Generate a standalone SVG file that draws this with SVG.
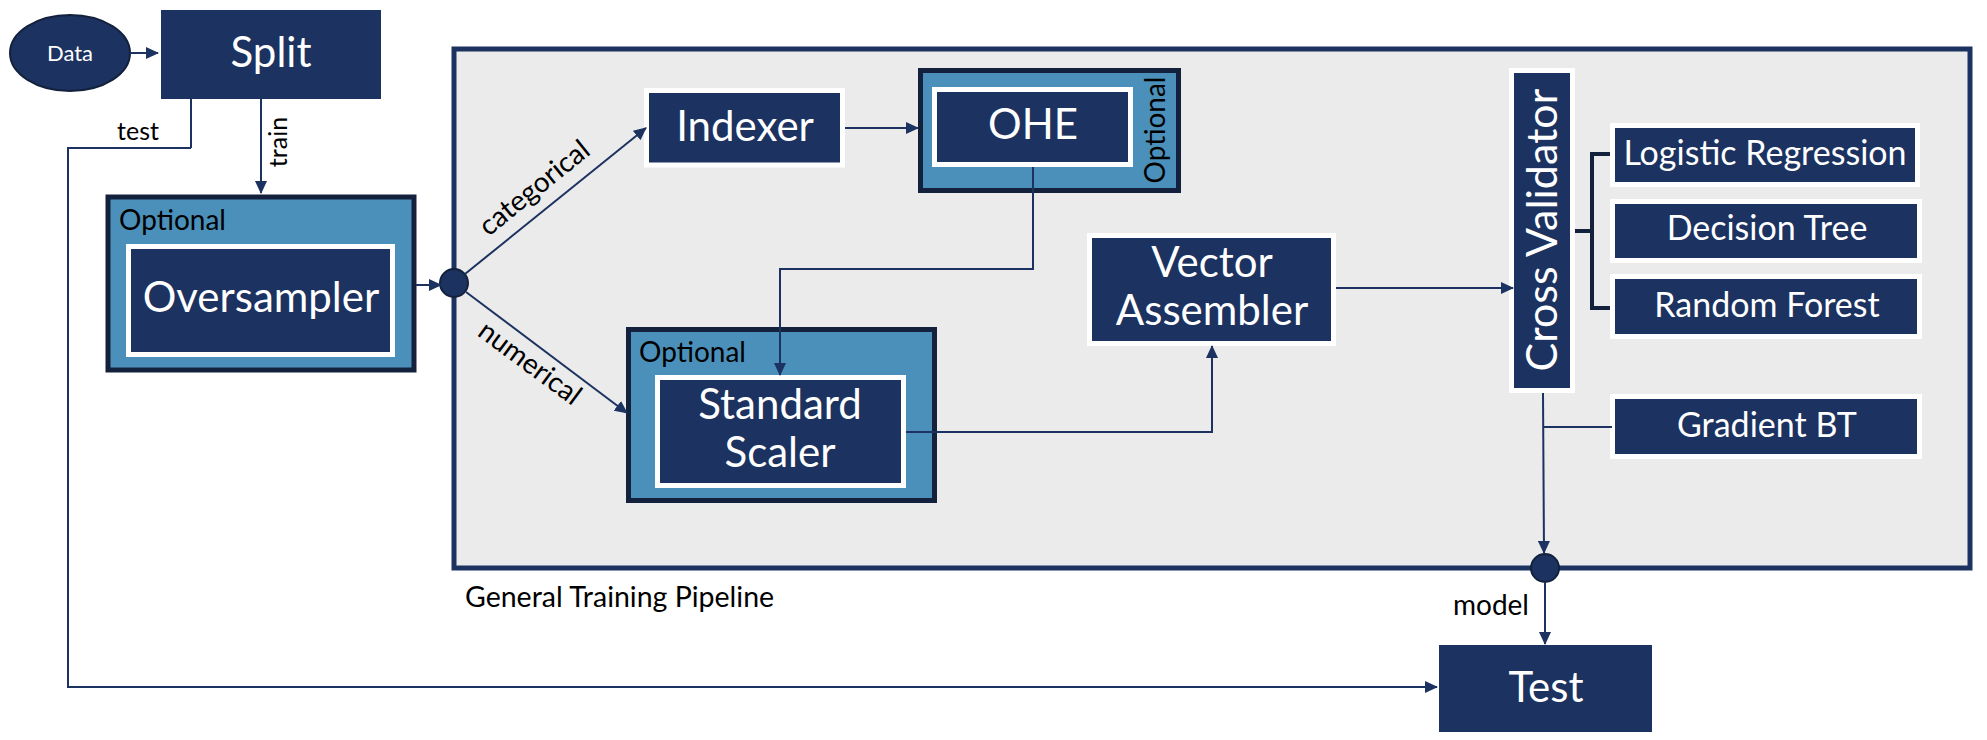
<svg xmlns="http://www.w3.org/2000/svg" width="1987" height="740" viewBox="0 0 1987 740">
<style>
text{font-family:Lato,"Open Sans","Liberation Sans",sans-serif}
.w{fill:#fff;text-anchor:middle}
.k{fill:#000}
.nav{fill:#1c3260}
.wb{fill:#1c3260;stroke:#fff;stroke-width:5}
.opt{fill:#4a90bb;stroke:#14213d;stroke-width:5}
.ln{stroke:#1c3260;stroke-width:2;fill:none}
.arr{marker-end:url(#ah)}
.jn{fill:#1c3260;stroke:#14213d;stroke-width:2}
</style>
<defs>
<marker id="ah" markerUnits="userSpaceOnUse" markerWidth="13" markerHeight="12" refX="12" refY="6" orient="auto">
<path d="M0,0 L13,6 L0,12 z" fill="#1c3260"/>
</marker>
</defs>
<rect width="1987" height="740" fill="#fff"/>
<g id="pipeline">
<rect x="454" y="49" width="1516" height="519" fill="#ebebeb" stroke="#1c3260" stroke-width="5"/>
<text class="k" x="465" y="607" font-size="28.5">General Training Pipeline</text>
</g>
<g id="data">
<ellipse cx="70" cy="53" rx="60" ry="38" class="jn" stroke-width="3"/>
<text class="w" x="70" y="61" font-size="22">Data</text>
</g>
<g id="split">
<rect class="nav" x="161" y="10" width="220" height="89"/>
<text class="w" x="271" y="67" font-size="42">Split</text>
</g>
<g id="oversampler">
<rect class="opt" x="108" y="197" width="306" height="173"/>
<text class="k" x="119" y="230" font-size="28">Optional</text>
<rect class="wb" x="128.5" y="246.5" width="264" height="108"/>
<text class="w" x="261" y="312" font-size="42">Oversampler</text>
</g>
<g id="junction-split">
<circle class="jn" cx="454" cy="283" r="14"/>
</g>
<g id="indexer">
<rect class="wb" x="646.5" y="90.5" width="196" height="74.5"/>
<text class="w" x="745" y="141" font-size="42">Indexer</text>
</g>
<g id="ohe">
<rect class="opt" x="920.5" y="70.5" width="258" height="120"/>
<rect class="wb" x="934.5" y="89.5" width="196" height="75"/>
<text class="w" x="1033" y="139" font-size="42">OHE</text>
<text class="k" transform="translate(1165,130) rotate(-90)" font-size="28" text-anchor="middle">Optional</text>
</g>
<g id="standard-scaler">
<rect class="opt" x="628.5" y="329.5" width="306" height="171"/>
<text class="k" x="639" y="362" font-size="28">Optional</text>
<rect class="wb" x="657.5" y="377.5" width="246" height="108"/>
<text class="w" x="780" y="419" font-size="42">Standard</text>
<text class="w" x="780" y="467" font-size="42">Scaler</text>
</g>
<g id="vector-assembler">
<rect class="wb" x="1089.5" y="235.5" width="244" height="108"/>
<text class="w" x="1212" y="277" font-size="42">Vector</text>
<text class="w" x="1212" y="325" font-size="42">Assembler</text>
</g>
<g id="cross-validator">
<rect class="wb" x="1511.5" y="70.5" width="61" height="320"/>
<text class="w" transform="translate(1557,230) rotate(-90)" font-size="43">Cross Validator</text>
</g>
<g id="logistic-regression">
<rect class="wb" x="1612.5" y="125.5" width="305" height="59"/>
<text class="w" x="1765" y="165" font-size="34">Logistic Regression</text>
</g>
<g id="decision-tree">
<rect class="wb" x="1612.5" y="201.5" width="307" height="59"/>
<text class="w" x="1767" y="240" font-size="34">Decision Tree</text>
</g>
<g id="random-forest">
<rect class="wb" x="1612.5" y="276.5" width="307" height="60"/>
<text class="w" x="1767" y="317" font-size="34">Random Forest</text>
</g>
<g id="gradient-bt">
<rect class="wb" x="1612.5" y="396.5" width="307" height="60"/>
<text class="w" x="1767" y="437" font-size="34">Gradient BT</text>
</g>
<g id="junction-model">
<circle class="jn" cx="1545" cy="568" r="14"/>
</g>
<g id="test">
<rect class="nav" x="1439" y="645" width="213" height="87"/>
<text class="w" x="1546" y="702" font-size="42">Test</text>
</g>
<g id="connectors">
<line class="ln arr" x1="130" y1="53" x2="158" y2="53"/>
<line class="ln arr" x1="261" y1="99" x2="261" y2="193"/>
<path class="ln" d="M191,99 V148" stroke-width="3"/>
<path class="ln arr" d="M191,148 H68 V687 H1437"/>
<line class="ln arr" x1="416" y1="285" x2="441" y2="285"/>
<line class="ln arr" x1="465" y1="274" x2="646" y2="128"/>
<line class="ln arr" x1="466" y1="292" x2="627" y2="413"/>
<line class="ln arr" x1="845" y1="128" x2="918" y2="128"/>
<path class="ln arr" d="M1033,167 V269 H780 V375"/>
<path class="ln arr" d="M906,432 H1212 V346"/>
<line class="ln arr" x1="1336" y1="288" x2="1513" y2="288"/>
<path d="M1575,231 H1592 M1610,154 H1592 V308 H1610" fill="none" stroke="#14213d" stroke-width="4"/>
<path class="ln arr" d="M1543,393 L1544,553"/>
<path class="ln" d="M1543,427 H1612"/>
<line class="ln arr" x1="1545" y1="582" x2="1545" y2="644"/>
<text class="k" x="138" y="140" font-size="25" text-anchor="middle">test</text>
<text class="k" transform="translate(287,142) rotate(-90)" font-size="25" text-anchor="middle">train</text>
<text class="k" transform="translate(549,206) rotate(-39)" y="-14" font-size="28" text-anchor="middle">categorical</text>
<text class="k" transform="translate(541,348) rotate(36.5)" y="28" font-size="28" text-anchor="middle">numerical</text>
<text class="k" x="1491" y="615" font-size="28" text-anchor="middle">model</text>
</g>
</svg>
